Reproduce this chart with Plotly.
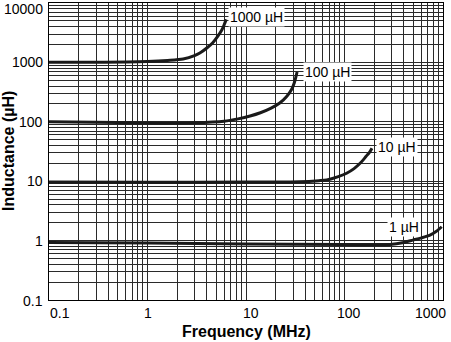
import math
import plotly.graph_objects as go

# Inductance vs. frequency curves for four nominal values
FREQ_1000 = [0.1, 0.3, 1.0, 1.6, 2.3, 3.0, 3.4, 4.0, 4.6, 5.2, 5.7, 6.0, 6.3]
IND_1000 = [1010, 1010, 1040, 1080, 1140, 1300, 1440, 1750, 2150, 2800, 3550, 4300, 5300]

FREQ_100 = [0.1, 0.5, 1.0, 3.0, 6.0, 8.3, 11, 14, 18, 22, 26, 29, 31, 33]
IND_100 = [100, 97, 95, 96, 102, 112, 125, 142, 170, 207, 270, 350, 460, 690]

FREQ_10 = [0.1, 1.0, 10, 35, 55, 66, 85, 105, 125, 144, 165, 180, 190]
IND_10 = [9.7, 9.6, 9.7, 9.8, 10.2, 10.5, 11.8, 13.6, 16.3, 20, 26, 31, 36]

FREQ_1 = [0.1, 1.0, 10, 100, 290, 400, 495, 600, 738, 850, 970]
IND_1 = [0.93, 0.91, 0.88, 0.86, 0.86, 0.93, 1.02, 1.11, 1.24, 1.42, 1.71]

CURVE_NAMES = ["1000 µH", "100 µH", "10 µH", "1 µH"]

X_TICKS = [0.1, 1, 10, 100, 1000]
X_TICK_TEXT = ["0.1", "1", "10", "100", "1000"]
Y_TICKS = [0.1, 1, 10, 100, 1000, 10000]
Y_TICK_TEXT = ["0.1", "1", "10", "100", "1000", "10000"]

FONT = "Arial, Liberation Sans, sans-serif"
lg = math.log10  # annotation positions on log axes are given in log units

# every 1..9 step of each decade gets a grid line
x_grid = [m * 10 ** e for e in range(-1, 3) for m in range(1, 10)] + [1000]
y_grid = [m * 10 ** e for e in range(-1, 4) for m in range(1, 10)] + [10000]

fig = go.Figure()
for fx, ly in [(FREQ_1000, IND_1000), (FREQ_100, IND_100), (FREQ_10, IND_10), (FREQ_1, IND_1)]:
    fig.add_trace(go.Scatter(
        x=fx, y=ly, mode="lines",
        line=dict(color="#1a1a1a", width=3, shape="spline", smoothing=0.8),
        showlegend=False, hoverinfo="skip",
    ))

annotations = []
# curve labels next to the curve ends
label_specs = [
    (FREQ_1000[-1], IND_1000[-1], "left", 2, 2),
    (FREQ_100[-1], IND_100[-1], "left", 6, 0),
    (FREQ_10[-1], IND_10[-1], "left", 4, 1),
]
for (x, y, anchor, xs, ys), name in zip(label_specs, CURVE_NAMES[:3]):
    annotations.append(dict(
        x=lg(x), y=lg(y), xref="x", yref="y", text=name, showarrow=False,
        xanchor=anchor, yanchor="middle", xshift=xs, yshift=ys,
        bgcolor="white", borderpad=1,
        font=dict(family=FONT, size=14, color="black"),
    ))
annotations.append(dict(
    x=lg(400), y=lg(1.7), xref="x", yref="y", text=CURVE_NAMES[3], showarrow=False,
    xanchor="center", yanchor="middle", bgcolor="white", borderpad=1,
    font=dict(family=FONT, size=14, color="black"),
))

# x tick labels
x_shift = {0.1: -1, 1: 0, 10: 5, 100: 4, 1000: 5}
x_anchor = {0.1: "left", 1: "center", 10: "center", 100: "center", 1000: "right"}
for v, t in zip(X_TICKS, X_TICK_TEXT):
    annotations.append(dict(
        x=lg(v), y=0, xref="x", yref="paper", text=t, showarrow=False,
        xanchor=x_anchor[v], yanchor="top", xshift=x_shift[v], yshift=-3,
        font=dict(family=FONT, size=14, color="black"),
    ))

# y tick labels
y_shift = {0.1: -1, 10000: -6}
for v, t in zip(Y_TICKS, Y_TICK_TEXT):
    annotations.append(dict(
        x=0, y=lg(v), xref="paper", yref="y", text=t, showarrow=False,
        xanchor="right", yanchor="middle", xshift=-4, yshift=y_shift.get(v, 0),
        font=dict(family=FONT, size=14, color="black"),
    ))

# axis titles
annotations.append(dict(
    x=0.5, y=0, xref="paper", yref="paper", text="<b>Frequency (MHz)</b>",
    showarrow=False, xanchor="center", yanchor="top", yshift=-21,
    font=dict(family=FONT, size=16, color="black"),
))
annotations.append(dict(
    x=0, y=0.5, xref="paper", yref="paper", text="<b>Inductance (µH)</b>",
    showarrow=False, xanchor="right", yanchor="middle", xshift=-30,
    textangle=-90, font=dict(family=FONT, size=16, color="black"),
))

axis_common = dict(
    type="log", showticklabels=False, ticks="",
    showgrid=True, gridcolor="#2a2a2a", gridwidth=1,
    showline=True, linecolor="black", linewidth=1, mirror=True,
    zeroline=False,
)
fig.update_xaxes(range=[-1, 3], tickvals=x_grid, **axis_common)
fig.update_yaxes(range=[-1, 4], tickvals=y_grid, **axis_common)

fig.update_layout(
    width=451, height=342,
    margin=dict(l=49, r=8, t=3, b=42),
    paper_bgcolor="white", plot_bgcolor="white",
    annotations=annotations,
    font=dict(family=FONT),
)

fig.write_html("out.html")
